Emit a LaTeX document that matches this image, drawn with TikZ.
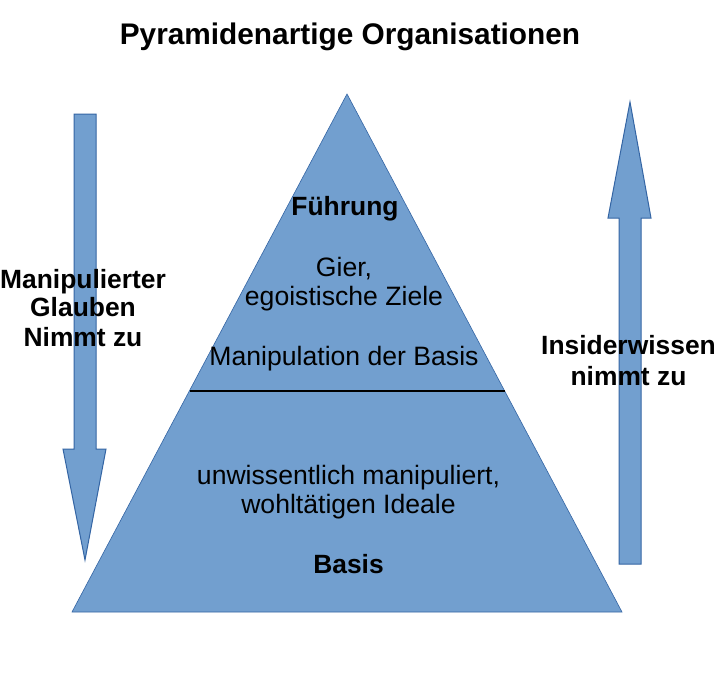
\documentclass[tikz,border=0pt]{standalone}
\usepackage{fontspec}
\setmainfont{Liberation Sans}
\definecolor{shapefill}{HTML}{729FCF}
\definecolor{shapeline}{HTML}{3465A4}
\begin{document}
\begin{tikzpicture}[x=1pt,y=-1pt,
  bluefill/.style={fill=shapefill,draw=shapeline,line width=1pt,line join=miter},
  lbl/.style={anchor=base,inner sep=0pt,font=\fontsize{26.6}{29}\selectfont},
  blbl/.style={lbl,font=\fontsize{26.4}{29}\selectfont\bfseries},
  ttl/.style={anchor=base,inner sep=0pt,font=\fontsize{29.8}{33}\selectfont\bfseries}]
\fill[white] (0,0) rectangle (718,680);
\useasboundingbox (0,0) rectangle (718,680);
% pyramid
\draw[bluefill,line width=0.6pt] (347,94) -- (622,612) -- (72,612) -- cycle;
\coordinate (divL) at (189.5,391);
\coordinate (divR) at (504.5,391);
\draw[black,line width=1.3pt] (divL) -- (divR);
% arrows
\draw[bluefill] (74,114) -- (96,114) -- (96,449) -- (106,449) -- (85,560) -- (63,449) -- (74,449) -- cycle;
\draw[bluefill] (619,564) -- (641,564) -- (641,218) -- (651,218) -- (630,102) -- (608,218) -- (619,218) -- cycle;
% title
\node[ttl] (title) at (350,44.3) {Pyramidenartige Organisationen};
% pyramid texts
\node[blbl] (fuehrung) at (345,215) {Führung};
\node[lbl] (gier) at (344,276) {Gier,};
\node[lbl] (ziele) at (344,305) {egoistische Ziele};
\node[lbl] (manip) at (344,365.7) {Manipulation der Basis};
\node[lbl] (unwiss) at (348.5,484.3) {unwissentlich manipuliert,};
\node[lbl] (ideale) at (348.5,513.3) {wohltätigen Ideale};
\node[blbl] (basis) at (348.5,573.3) {Basis};
% left label
\node[blbl] (l1) at (83,288.3) {Manipulierter};
\node[blbl] (l2) at (83,316.7) {Glauben};
\node[blbl] (l3) at (83,346) {Nimmt zu};
% right label
\node[blbl] (r1) at (628.5,354.3) {Insiderwissen};
\node[blbl] (r2) at (628.5,385) {nimmt zu};
\end{tikzpicture}
\end{document}
